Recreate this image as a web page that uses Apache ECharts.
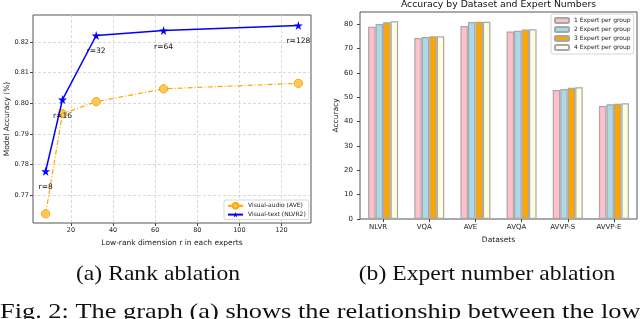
<!DOCTYPE html>
<html>
<head>
<meta charset="utf-8">
<script src="https://cdn.jsdelivr.net/npm/echarts@6/dist/echarts.min.js"></script>
<style>html,body{margin:0;padding:0;background:#fff;}#c{width:640px;height:319px;}</style>
</head>
<body>
<div id="c"></div>
<script>
// ---- Data: (a) Rank ablation ----
const ranks = [8, 16, 32, 64, 128];
const rankLabels = ['r=8', 'r=16', 'r=32', 'r=64', 'r=128'];
const visualAudio = [0.7639, 0.7966, 0.8005, 0.8047, 0.8065];
const visualText = [0.7778, 0.8012, 0.8221, 0.8237, 0.8254];

// ---- Data: (b) Expert number ablation ----
const datasets = ['NLVR', 'VQA', 'AVE', 'AVQA', 'AVVP-S', 'AVVP-E'];
const expert1 = [78.9, 74.3, 79.2, 77.0, 53.0, 46.4];
const expert2 = [80.1, 74.7, 80.9, 77.3, 53.4, 47.1];
const expert3 = [80.8, 75.0, 81.0, 77.8, 53.9, 47.3];
const expert4 = [81.2, 75.0, 81.0, 77.9, 54.1, 47.5];
const expertNames = ['1 Expert per group', '2 Expert per group', '3 Expert per group', '4 Expert per group'];
const expertColors = ['#FFC0CB', '#ADD8E6', '#FFA500', '#FFFFE0'];

const F = 'DejaVu Sans';
const starPath = 'path://M50,0 L61,35 L98,35 L68,57 L79,91 L50,70 L21,91 L32,57 L2,35 L39,35 Z';
const octPath = 'path://M30,0 L70,0 L100,30 L100,70 L70,100 L30,100 L0,70 L0,30 Z';

const chart = echarts.init(document.getElementById('c'), null, {renderer: 'canvas'});

const expertData = [expert1, expert2, expert3, expert4];

const option = {
  animation: false,
  backgroundColor: '#fff',
  textStyle: {fontFamily: F},
  grid: [
    {left: 33, top: 15, width: 278, height: 208, show: true, borderColor: '#555', borderWidth: 1, backgroundColor: 'transparent'},
    {left: 360, top: 12, width: 277, height: 207, show: true, borderColor: '#555', borderWidth: 1, backgroundColor: 'transparent'}
  ],
  xAxis: [
    {
      gridIndex: 0, type: 'value', min: 2, max: 134, splitNumber: 6,
      name: 'Low-rank dimension r in each experts', nameLocation: 'middle', nameGap: 7,
      nameTextStyle: {fontFamily: F, fontSize: 7.5, color: '#222'},
      axisLine: {show: false},
      axisTick: {show: true, length: 3, lineStyle: {color: '#444'}},
      axisLabel: {fontFamily: F, fontSize: 6.5, color: '#222', margin: 4, showMinLabel: false, showMaxLabel: false},
      splitLine: {show: true, showMinLine: false, showMaxLine: false, lineStyle: {color: '#d0d0d0', type: [3, 2], width: 0.8}}
    },
    {
      gridIndex: 1, type: 'category', data: datasets,
      name: 'Datasets', nameLocation: 'middle', nameGap: 11,
      nameTextStyle: {fontFamily: F, fontSize: 7.5, color: '#222'},
      axisLine: {show: false},
      axisTick: {show: true, alignWithLabel: true, length: 3, lineStyle: {color: '#444'}},
      axisLabel: {fontFamily: F, fontSize: 7, color: '#222', margin: 5, padding: [0, 10, 0, 0]},
      splitLine: {show: false}
    }
  ],
  yAxis: [
    {
      gridIndex: 0, type: 'value', min: 0.7609, max: 0.8288, splitNumber: 7,
      name: 'Model Accuracy (%)', nameLocation: 'middle', nameGap: 20,
      nameTextStyle: {fontFamily: F, fontSize: 7.5, color: '#222'},
      axisLine: {show: false},
      axisTick: {show: true, length: 3, lineStyle: {color: '#444'}},
      axisLabel: {fontFamily: F, fontSize: 6.5, color: '#222', margin: 4, showMinLabel: false, showMaxLabel: false,
        formatter: v => v.toFixed(2)},
      splitLine: {show: true, showMinLine: false, showMaxLine: false, lineStyle: {color: '#d0d0d0', type: [3, 2], width: 0.8}}
    },
    {
      gridIndex: 1, type: 'value', min: 0, max: 85, splitNumber: 8,
      name: 'Accuracy', nameLocation: 'middle', nameGap: 19,
      nameTextStyle: {fontFamily: F, fontSize: 7.5, color: '#222'},
      axisLine: {show: false},
      axisTick: {show: true, length: 3, lineStyle: {color: '#444'}},
      axisLabel: {fontFamily: F, fontSize: 7, color: '#222', margin: 7, showMaxLabel: false},
      splitLine: {show: false}
    }
  ],
  legend: [
    {
      left: 224, top: 200, orient: 'vertical', itemWidth: 15, itemHeight: 7, itemGap: 2,
      padding: [2, 3], borderColor: '#ccc', borderWidth: 0.8, borderRadius: 2, backgroundColor: '#fff',
      textStyle: {fontFamily: F, fontSize: 6, color: '#222'},
      data: ['Visual-audio (AVE)', 'Visual-text (NLVR2)']
    },
    {
      left: 551, top: 14, orient: 'vertical', itemWidth: 14, itemHeight: 5, itemGap: 2,
      padding: [3, 3], borderColor: '#ccc', borderWidth: 0.8, borderRadius: 2, backgroundColor: '#fff',
      textStyle: {fontFamily: F, fontSize: 6, color: '#222'},
      data: expertNames
    }
  ],
  graphic: [
    {type: 'text', x: 498.5, y: 5, style: {text: 'Accuracy by Dataset and Expert Numbers', fontFamily: F, fontSize: 9.3, fill: '#111', align: 'center', verticalAlign: 'middle'}},
    {type: 'text', x: 158, y: 274, scaleX: 1.125, style: {text: '(a) Rank ablation', fontFamily: 'Liberation Serif', fontSize: 21, fill: '#111', align: 'center', verticalAlign: 'middle'}},
    {type: 'text', x: 487, y: 274, scaleX: 1.125, style: {text: '(b) Expert number ablation', fontFamily: 'Liberation Serif', fontSize: 21, fill: '#111', align: 'center', verticalAlign: 'middle'}},
    {type: 'text', x: 0, y: 312.5, scaleX: 1.255, style: {text: 'Fig. 2: The graph (a) shows the relationship between the low', fontFamily: 'Liberation Serif', fontSize: 21, fill: '#111', align: 'left', verticalAlign: 'middle'}}
  ],
  series: [
    {
      name: 'Visual-audio (AVE)', type: 'line', xAxisIndex: 0, yAxisIndex: 0,
      data: ranks.map((r, i) => [r, visualAudio[i]]),
      symbol: octPath, symbolSize: 8,
      lineStyle: {color: '#FFA500', width: 1.2, type: [5, 2, 1, 2]},
      itemStyle: {color: '#FFC85A', borderColor: '#FFA500', borderWidth: 1},
      z: 3
    },
    {
      name: 'Visual-text (NLVR2)', type: 'line', xAxisIndex: 0, yAxisIndex: 0,
      data: ranks.map((r, i) => [r, visualText[i]]),
      symbol: starPath, symbolSize: 9,
      lineStyle: {color: '#0000FF', width: 1.5},
      itemStyle: {color: '#0000FF'},
      label: {show: true, position: 'inside', offset: [0, 16], fontFamily: F, fontSize: 7.5, color: '#111',
        formatter: p => rankLabels[p.dataIndex]},
      z: 4
    }
  ].concat(expertNames.map((n, k) => ({
    name: n, type: 'bar', xAxisIndex: 1, yAxisIndex: 1,
    data: expertData[k],
    barWidth: 7.5, barGap: '0%',
    itemStyle: {color: expertColors[k], borderColor: '#a8a8a8', borderWidth: 1.2}
  })))
};
chart.setOption(option);
</script>
</body>
</html>
